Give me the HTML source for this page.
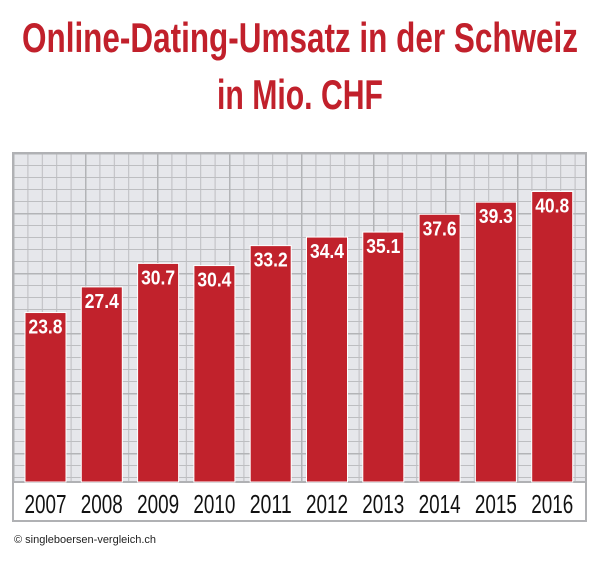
<!DOCTYPE html>
<html><head><meta charset="utf-8"><style>
body{margin:0;background:#fff;width:600px;height:564px;overflow:hidden}
</style></head><body>
<svg width="600" height="564" xmlns="http://www.w3.org/2000/svg">
<defs>
<pattern id="g" x="13" y="153" width="14.4" height="12" patternUnits="userSpaceOnUse">
<rect width="14.4" height="12" fill="#e6e7eb"/>
<path d="M0 0V12M0 0H14.4" stroke="#bdbec1" stroke-width="2"/>
</pattern>
<pattern id="G" x="13" y="153" width="72" height="60" patternUnits="userSpaceOnUse">
<path d="M0 0V60M0 0H72" stroke="#b3b4b7" stroke-width="3" fill="none"/>
</pattern>
</defs>
<text x="300" y="52" text-anchor="middle" font-family="Liberation Sans, sans-serif" font-weight="bold" font-size="42" fill="#c1202b" textLength="556" lengthAdjust="spacingAndGlyphs">Online-Dating-Umsatz in der Schweiz</text>
<text x="300" y="109" text-anchor="middle" font-family="Liberation Sans, sans-serif" font-weight="bold" font-size="42" fill="#c1202b" textLength="166" lengthAdjust="spacingAndGlyphs">in Mio. CHF</text>
<rect x="13" y="153" width="573" height="329" fill="url(#g)"/>
<rect x="13" y="153" width="573" height="329" fill="url(#G)"/>
<rect x="13" y="482" width="573" height="39" fill="#fff"/>
<rect x="13" y="153" width="573" height="368" fill="none" stroke="#b0b1b4" stroke-width="2"/>
<line x1="13" y1="482" x2="586" y2="482" stroke="#b0b1b4" stroke-width="2"/>
<g font-family="Liberation Sans, sans-serif" font-weight="bold" font-size="20" fill="#fff" text-anchor="middle">
<g id="bars"></g>
</g>
<g id="yrs" font-family="Liberation Sans, sans-serif" font-size="26" fill="#111" text-anchor="middle"></g>
<text x="14" y="543" font-family="Liberation Sans, sans-serif" font-size="11" fill="#222">© singleboersen-vergleich.ch</text>
<script>
var v=[23.8,27.4,30.7,30.4,33.2,34.4,35.1,37.6,39.3,40.8],b=document.getElementById('bars'),y=document.getElementById('yrs'),ns='http://www.w3.org/2000/svg';
v.forEach(function(d,i){var x=25+i*56.3,h=d*7.12,t=482-h;
var r=document.createElementNS(ns,'rect');r.setAttribute('x',x);r.setAttribute('y',t);r.setAttribute('width',41);r.setAttribute('height',h);r.setAttribute('fill','#c1222c');r.setAttribute('stroke','#fff');r.setAttribute('stroke-width','1');b.appendChild(r);
var s=document.createElementNS(ns,'text');s.setAttribute('x',x+20.5);s.setAttribute('y',t+21);s.setAttribute('textLength',34);s.setAttribute('lengthAdjust','spacingAndGlyphs');s.textContent=d.toFixed(1);b.appendChild(s);
var z=document.createElementNS(ns,'text');z.setAttribute('x',x+20.5);z.setAttribute('y',513);z.setAttribute('textLength',42);z.setAttribute('lengthAdjust','spacingAndGlyphs');z.textContent=2007+i;y.appendChild(z);});
</script>
</svg>
</body></html>
